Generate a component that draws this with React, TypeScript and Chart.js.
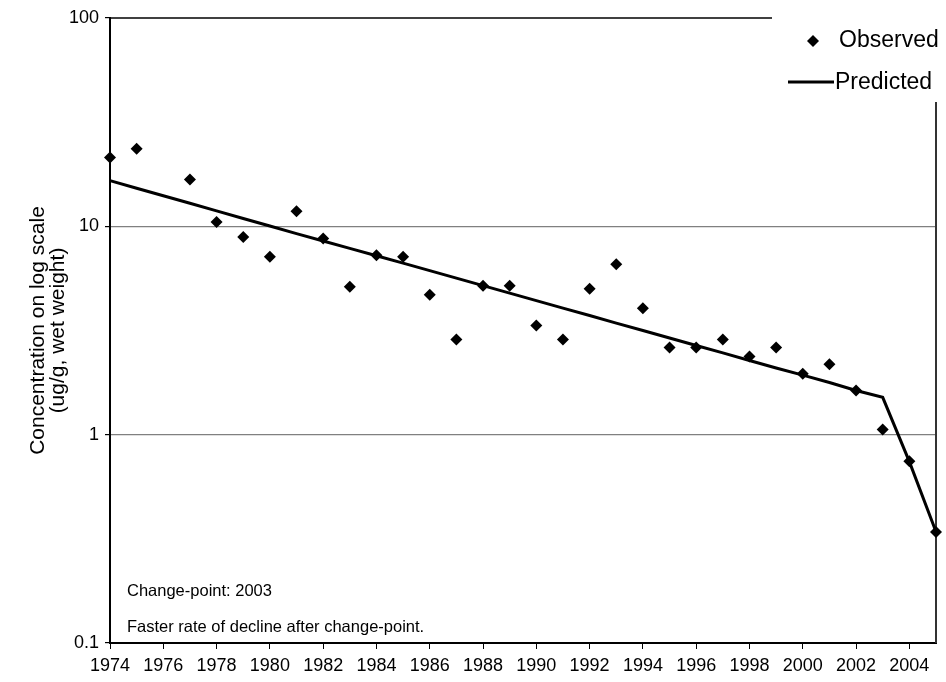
import React, { useEffect, useRef } from "react";
import { Chart, registerables } from "chart.js";

Chart.register(...registerables);

const obsYears = [1974, 1975, 1977, 1978, 1979, 1980, 1981, 1982, 1983, 1984, 1985, 1986, 1987, 1988, 1989, 1990, 1991, 1992, 1993, 1994, 1995, 1996, 1997, 1998, 1999, 2000, 2001, 2002, 2003, 2004, 2005];
const obsValues = [21.4, 23.6, 16.8, 10.5, 8.9, 7.15, 11.8, 8.73, 5.13, 7.26, 7.15, 4.7, 2.86, 5.19, 5.19, 3.34, 2.86, 5.02, 6.57, 4.04, 2.62, 2.62, 2.86, 2.37, 2.62, 1.96, 2.18, 1.63, 1.06, 0.745, 0.341];

const predYears = [1974, 1975, 1976, 1977, 1978, 1979, 1980, 1981, 1982, 1983, 1984, 1985, 1986, 1987, 1988, 1989, 1990, 1991, 1992, 1993, 1994, 1995, 1996, 1997, 1998, 1999, 2000, 2001, 2002, 2003, 2004, 2005];
const predValues = [16.58, 15.24, 14.03, 12.9, 11.86, 10.9, 10.03, 9.23, 8.51, 7.84, 7.23, 6.66, 6.13, 5.64, 5.19, 4.78, 4.4, 4.05, 3.73, 3.43, 3.16, 2.91, 2.68, 2.47, 2.27, 2.09, 1.93, 1.78, 1.63, 1.51, 0.742, 0.342];

const xTickYears = [1974, 1976, 1978, 1980, 1982, 1984, 1986, 1988, 1990, 1992, 1994, 1996, 1998, 2000, 2002, 2004];
const yTickValues = [0.1, 1, 10, 100];
const yTickLabels = ["0.1", "1", "10", "100"];
const yTitleLines = ["Concentration on log scale", "(ug/g, wet weight)"];
const legendLabels = ["Observed", "Predicted"];
const noteLines = ["Change-point: 2003", "Faster rate of decline after change-point."];

const FONT = "'Liberation Sans', Arial, sans-serif";

const decorPlugin = {
  id: "decor",
  beforeDatasetsDraw(chart: any) {
    const { ctx, chartArea } = chart;
    const { left, right, top, bottom } = chartArea;
    ctx.save();
    ctx.strokeStyle = "#000";
    ctx.lineWidth = 1.5;
    ctx.beginPath();
    ctx.moveTo(left, top);
    ctx.lineTo(772, top);
    ctx.stroke();
    ctx.strokeStyle = "#333";
    ctx.lineWidth = 2;
    ctx.beginPath();
    ctx.moveTo(right, 102);
    ctx.lineTo(right, bottom);
    ctx.stroke();
    ctx.fillStyle = "#000";
    ctx.font = `16.5px ${FONT}`;
    ctx.textAlign = "left";
    ctx.textBaseline = "middle";
    ctx.fillText(noteLines[0], left + 17, 591);
    ctx.fillText(noteLines[1], left + 17, 627);
    ctx.restore();
  },
  afterDraw(chart: any) {
    const { ctx } = chart;
    ctx.save();
    ctx.fillStyle = "#000";
    const mx = 813, my = 41, r = 6;
    ctx.beginPath();
    ctx.moveTo(mx, my - r);
    ctx.lineTo(mx + r, my);
    ctx.lineTo(mx, my + r);
    ctx.lineTo(mx - r, my);
    ctx.closePath();
    ctx.fill();
    ctx.strokeStyle = "#000";
    ctx.lineWidth = 3;
    ctx.beginPath();
    ctx.moveTo(788, 82);
    ctx.lineTo(834, 82);
    ctx.stroke();
    ctx.font = `23px ${FONT}`;
    ctx.textAlign = "left";
    ctx.textBaseline = "middle";
    ctx.fillText(legendLabels[0], 839, 41);
    ctx.fillText(legendLabels[1], 835, 83);
    ctx.restore();
  },
};

export default function App() {
  const canvasRef = useRef<HTMLCanvasElement>(null);

  useEffect(() => {
    const canvas = canvasRef.current;
    if (!canvas) return;
    const chart = new Chart(canvas, {
      type: "scatter",
      data: {
        datasets: [
          {
            label: legendLabels[0],
            data: obsYears.map((y, i) => ({ x: y, y: obsValues[i] })),
            pointStyle: "rectRot",
            pointRadius: 6,
            pointBackgroundColor: "#000",
            pointBorderColor: "#000",
            pointBorderWidth: 0,
            showLine: false,
            clip: false,
            order: 0,
          },
          {
            label: legendLabels[1],
            data: predYears.map((y, i) => ({ x: y, y: predValues[i] })),
            showLine: true,
            borderColor: "#000",
            borderWidth: 3,
            pointRadius: 0,
            tension: 0,
            clip: false,
            order: 1,
          },
        ],
      },
      options: {
        responsive: false,
        animation: false,
        devicePixelRatio: 1,
        layout: { padding: { left: 0, right: 10, top: 18, bottom: 0 } },
        plugins: {
          legend: { display: false },
          tooltip: { enabled: false },
          title: { display: false },
        },
        scales: {
          x: {
            type: "linear",
            min: 1974,
            max: 2005,
            afterBuildTicks: (scale: any) => {
              scale.ticks = xTickYears.map((v) => ({ value: v }));
            },
            afterFit: (scale: any) => {
              scale.height = 39;
            },
            ticks: {
              autoSkip: false,
              maxRotation: 0,
              padding: 6,
              color: "#000",
              font: { family: FONT, size: 18 },
              callback: (v: any) => String(v),
            },
            grid: {
              drawOnChartArea: false,
              drawTicks: true,
              tickLength: 6,
              tickColor: "#000",
              tickWidth: 1,
            },
            border: { display: true, color: "#000", width: 2 },
          },
          y: {
            type: "logarithmic",
            min: 0.1,
            max: 100,
            afterBuildTicks: (scale: any) => {
              scale.ticks = yTickValues.map((v) => ({ value: v }));
            },
            afterFit: (scale: any) => {
              scale.width = 110;
            },
            ticks: {
              autoSkip: false,
              padding: 6,
              color: "#000",
              font: { family: FONT, size: 18 },
              callback: (v: any) => {
                const i = yTickValues.indexOf(Number(v));
                return i >= 0 ? yTickLabels[i] : "";
              },
            },
            grid: {
              drawOnChartArea: true,
              drawTicks: true,
              tickLength: 5,
              tickColor: "#000",
              lineWidth: 1.2,
              color: (c: any) =>
                c.tick && (c.tick.value === 10 || c.tick.value === 1) ? "#808080" : "rgba(0,0,0,0)",
            },
            border: { display: true, color: "#000", width: 2 },
            title: {
              display: true,
              text: yTitleLines,
              color: "#000",
              font: { family: FONT, size: 21, lineHeight: 0.95 },
              padding: { top: 28, bottom: 0 },
            },
          },
        },
      },
      plugins: [decorPlugin],
    });
    return () => chart.destroy();
  }, []);

  return (
    <div style={{ position: "absolute", left: 0, top: 0, width: 946, height: 682, background: "#fff" }}>
      <canvas ref={canvasRef} width={946} height={682} style={{ display: "block" }} />
    </div>
  );
}
